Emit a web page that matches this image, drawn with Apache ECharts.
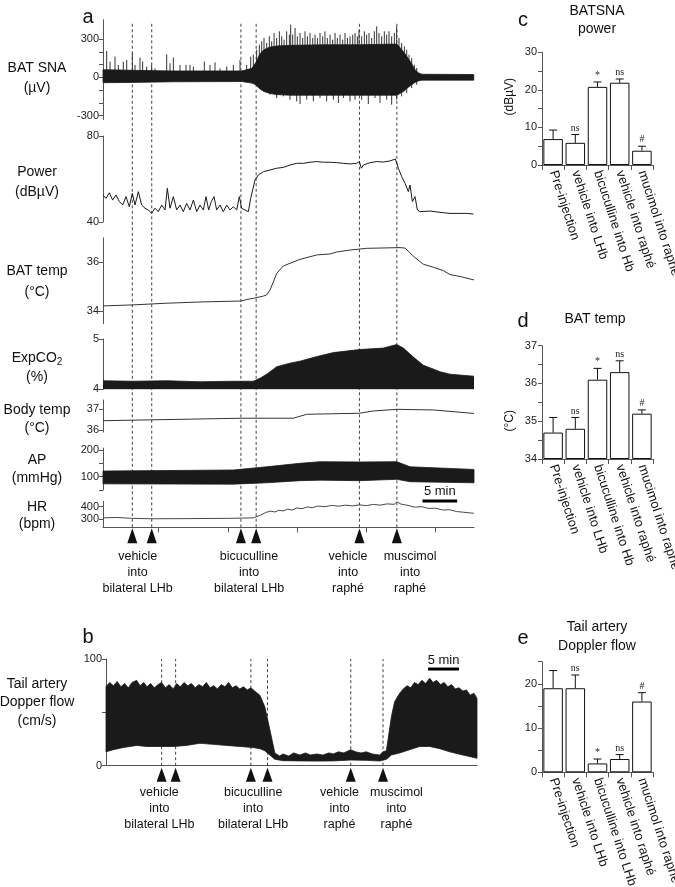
<!DOCTYPE html>
<html><head><meta charset="utf-8">
<script src="https://cdn.jsdelivr.net/npm/echarts@6/dist/echarts.min.js"></script>
<style>html,body{margin:0;padding:0;background:#fff}#c{width:675px;height:887px}</style>
</head><body><div id="c"></div>
<script>
// ---------- DATA ----------
// Panel a: time in minutes from start of recording
const eventTimesA = [4.23, 7.03, 19.9, 22.1, 37.0, 42.4];
const eventLabelTimesA = [5.0, 21.07, 35.35, 44.3];
const eventLabels = ['vehicle\ninto\nbilateral LHb', 'bicuculline\ninto\nbilateral LHb', 'vehicle\ninto\nraphé', 'muscimol\ninto\nraphé'];
const timeTicksA = [8, 18, 28, 38, 48];
const timeMaxA = 53.53;
const scaleBarStartA = 46.1;
const scaleBarMinutes = 5;

// BAT SNA: dense core envelope (µV) + individual spikes
const snaCoreTime  = [0, 4.2, 10, 20, 21.5, 22.1, 22.6, 23.2, 24, 25, 27, 32, 37, 42.4, 42.9, 43.5, 44, 44.5, 45, 45.5, 46, 53.5];
const snaCoreUpper = [60, 55, 50, 50, 70, 120, 180, 215, 235, 245, 250, 255, 255, 260, 230, 190, 150, 110, 60, 35, 24, 22];
const snaCoreLower = [-42, -40, -35, -33, -45, -60, -90, -110, -125, -135, -140, -140, -140, -140, -125, -105, -80, -60, -40, -28, -22, -22];
const snaSpikeTime = [0.53,1.01,1.73,2.21,2.93,3.42,4.23,4.62,5.34,5.72,6.30,7.02,7.50,9.19,9.67,10.15,11.11,11.98,12.55,13.04,14.62,15.44,16.16,16.88,17.85,18.81,19.77,20.73,21.31,
  21.69,22.17,22.56,22.90,23.23,23.62,24.00,24.34,24.68,25.06,25.45,25.78,26.12,26.50,26.89,27.08,27.37,27.71,28.04,28.43,28.81,29.15,29.49,29.87,30.26,30.59,30.93,31.31,31.70,32.03,32.37,32.76,33.14,33.48,33.81,34.20,34.58,34.92,35.26,35.64,36.03,36.36,36.70,
  36.94,37.32,37.71,38.04,38.38,38.77,39.15,39.49,39.82,40.21,40.59,40.93,41.27,41.65,42.04,42.37,42.71,43.09,43.48,43.82,44.15,44.54,44.92,45.26,
  22.17,23.14,24.1,25.06,26.02,26.98,27.95,28.43,29.39,30.35,31.31,32.27,33.24,33.96,34.68,35.64,36.36,37.32,38.28,39.25,39.97,40.93,41.65,42.37,43.09,43.82,44.54,45.26];
const snaSpikeValue = [206,123,162,97,123,136,188,97,154,123,84,97,70,180,110,154,97,97,97,84,123,97,117,70,84,97,136,97,162,
  177,216,255,282,308,269,321,282,347,308,360,321,295,360,334,412,334,386,321,347,308,360,321,347,308,334,308,347,321,360,308,334,295,347,308,334,295,347,308,321,334,347,321,
  373,321,360,334,347,308,360,399,347,321,360,334,360,321,347,399,308,269,243,216,177,151,99,73,
  -58,-97,-136,-162,-149,-175,-188,-209,-175,-188,-162,-188,-175,-201,-162,-188,-175,-175,-209,-162,-201,-175,-214,-175,-149,-123,-84,-58];

const powerTime = [0.0,0.43,0.91,1.39,1.88,2.36,2.84,3.32,3.80,4.23,4.62,5.10,5.58,6.06,6.54,7.02,7.50,7.98,8.47,8.95,9.28,9.67,10.15,10.63,11.11,11.59,12.07,12.55,13.04,13.52,14.00,14.48,14.86,15.25,15.63,16.02,16.40,16.88,17.36,17.85,18.33,18.81,19.29,19.67,20.01,20.49,20.97,21.31,21.60,21.93,22.42,23.14,24.10,25.06,26.02,26.98,27.95,28.91,29.87,30.83,31.79,32.76,33.72,34.68,35.64,36.60,36.99,37.28,37.57,38.53,39.49,40.45,41.41,42.18,42.62,43.10,43.58,44.06,44.30,44.64,45.02,45.36,45.74,47.19,48.63,50.07,51.52,52.48,53.44];
const powerValue = [52.6,51.0,53.6,50.2,52.6,49.5,47.9,51.8,47.1,53.3,47.9,54.1,47.9,46.4,45.6,44.0,46.4,44.8,47.9,45.6,55.7,46.4,51.8,45.6,47.9,44.8,48.7,45.6,50.2,44.8,47.9,45.6,51.8,45.6,49.5,51.8,45.6,47.9,44.8,47.9,45.6,47.1,45.6,51.8,46.4,45.6,44.8,51.0,54.9,59.5,61.9,63.4,64.2,65.0,65.4,66.5,67.3,67.3,67.8,68.1,67.8,67.8,67.6,67.3,67.0,67.3,68.1,65.0,66.5,67.6,68.1,67.9,68.4,69.3,65.0,61.1,58.0,54.1,57.2,49.5,51.8,45.6,44.8,45.1,44.5,44.0,44.0,44.0,43.7];

const batTempTime = [0,4.23,9.19,14.0,19.91,20.73,21.69,23.13,23.62,24.1,24.58,25.07,26.02,26.98,28.43,30.84,32.76,33.72,35.64,38.05,42.86,43.58,44.78,46.22,47.66,49.1,50.07,51.52,53.53];
const batTempValue = [34.22,34.26,34.33,34.38,34.42,34.48,34.53,34.62,34.67,34.87,35.2,35.55,35.85,35.96,36.12,36.3,36.34,36.42,36.5,36.57,36.6,36.58,36.25,35.92,35.8,35.66,35.5,35.42,35.28];

const co2Time = [0,4.38,9.19,14.0,18.8,21.69,22.65,23.62,25.07,26.98,28.43,30.84,33.24,36.99,40.45,42.38,43.34,44.78,46.22,48.63,50.07,53.53];
const co2Value = [4.17,4.16,4.17,4.15,4.16,4.16,4.22,4.30,4.45,4.52,4.56,4.65,4.73,4.79,4.82,4.89,4.82,4.64,4.48,4.35,4.30,4.26];

const bodyTime = [0,19.9,27.46,29.39,37.0,39.0,42.4,47.66,53.53];
const bodyValue = [36.45,36.57,36.57,36.76,36.81,36.92,37.0,36.97,36.8];

const apTime = [0,18.8,23.62,28.43,31.3,37.0,42.4,44.3,53.53];
const apUpper = [121,125,137,150,156,155,156,137,127];
const apLower = [73,72,77,85,87,85,90,81,77];

const hrTime = [0,2,4.2,7,12,18,20,21.7,22.6,23.5,24.2,24.8,25.4,26,26.6,27.3,28,28.7,29.5,30.2,31,32,33,34,35,36,37,38,39,40,41,42,42.4,43,44,45,46,47,48,49,50,51,52,53.5];
const hrValue = [312,315,308,305,306,308,310,312,330,355,365,358,372,366,380,374,390,384,398,392,405,400,410,404,412,406,414,408,418,412,422,418,438,420,410,396,400,386,388,374,376,362,356,348];

// Panel b
const eventTimesB = [8.98, 11.24, 23.39, 26.08, 39.52, 44.73];
const eventLabelTimesB = [8.6, 23.76, 37.7, 46.9];
const timeMaxB = 59.9;
const scaleBarStartB = 52.0;
const flowUpperTime = [0,0.6,1.2,1.8,2.4,3.0,3.6,4.2,4.95,5.5,6.1,6.6,7.2,7.8,8.4,8.98,9.6,10.2,10.86,11.4,12.0,12.6,13.2,13.8,14.4,15.0,15.6,16.2,16.8,17.4,18.0,18.6,19.2,19.8,20.4,21.0,21.6,22.2,22.8,23.4,24.0,24.84,25.65,26.45,27.26,28.0,28.6,29.5,30.3,31.3,32.2,33.0,34.0,35.0,36.0,36.7,37.5,38.4,39.5,40.3,41.2,42.0,43.0,44.2,44.73,45.27,46.08,46.6,47.42,48.0,48.6,49.2,49.8,50.4,51.0,51.6,52.26,52.8,53.4,54.0,54.6,55.2,55.8,56.4,57.0,57.6,58.2,58.8,59.4,59.9];
const flowUpper = [74,78,75,79,74,77,73,78,80,75,78,74,77,73,76,78,73,76,72,77,74,78,75,77,73,76,74,78,73,75,72,76,74,78,73,75,72,74,71,73,70,66,55,34,12,9,11,9,12,10,12,10,11,10,12,11,13,12,15,13,12,13,11,10,13,14,46,60,68,72,75,73,78,76,80,77,82,78,80,76,78,74,76,72,73,70,71,66,68,63];
const flowLowerTime = [0,1.18,2.8,4.95,6.56,8.98,10.86,13.0,15.16,17.3,19.46,21.61,23.76,24.84,25.65,26.45,27.26,28.6,31.29,33.98,36.67,39.52,42.04,44.19,45.27,46.08,47.42,49.03,50.65,52.26,53.87,55.48,57.63,59.9];
const flowLower = [13,15,17,19,18,18,18,19,21,20,19,18,17,16,14,10,6,4.7,4.5,4.3,4.5,5.3,5,4.4,6,10,12,15,18,18,16,13,10,7];

// Panels c, d, e
const catsCD = ['Pre-injection','vehicle into LHb','bicuculline into Hb','vehicle into raphé','mucimol into raphé'];
const catsE = ['Pre-injection','vehicle into LHb','bicuculline into LHb','vehicle into raphé','mucimol into raphé'];
const sigLabels = ['', 'ns', '*', 'ns', '#'];
const powerMean = [6.9, 5.9, 20.8, 21.9, 3.8];
const powerSem = [2.4, 2.2, 1.3, 1.0, 1.2];
const tempMean = [34.7, 34.8, 36.1, 36.3, 35.2];
const tempSem = [0.4, 0.3, 0.3, 0.3, 0.1];
const flowMean = [19, 19, 2, 3, 16];
const flowSem = [4, 3, 1, 1, 2];

// ---------- CHART ----------
const sans = '"Liberation Sans", Arial, Helvetica, sans-serif';
const serif = '"Liberation Serif", "DejaVu Serif", serif';
const ink = '#1a1a1a';
const axisCol = '#555';
const zip = (a, b) => a.map((v, i) => [v, b[i]]);

const grids = [
  {left:103, top:19.8, width:371, height:99.7},   // 0 SNA
  {left:103, top:136, width:371, height:86},      // 1 Power
  {left:103, top:237.8, width:371, height:85.75}, // 2 BAT temp
  {left:103, top:339, width:371, height:50.3},    // 3 CO2
  {left:103, top:400, width:371, height:32.1},    // 4 Body temp
  {left:103, top:448.1, width:371, height:41.9},  // 5 AP
  {left:103, top:501.2, width:371, height:26.2},  // 6 HR
  {left:103, top:23, width:371, height:504.3},    // 7 overlay a
  {left:106, top:659, width:371, height:106.7},   // 8 Doppler
  {left:542, top:52.3, width:111, height:112.7},  // 9 c
  {left:542, top:345.7, width:111, height:113.3}, // 10 d
  {left:542, top:661.7, width:111, height:110.6}  // 11 e
].map(g => Object.assign({containLabel:false, outerBoundsMode:'none'}, g));

function hiddenX(gi, max){ return {type:'value', gridIndex:gi, min:0, max:max, show:false}; }
function traceY(gi, min, max, ticks, labels){
  return {type:'value', gridIndex:gi, min:min, max:max,
    axisLine:{show:true, onZero:false, lineStyle:{color:axisCol, width:1}},
    axisTick:{show:true, inside:false, length:4, customValues:ticks, lineStyle:{color:axisCol}},
    axisLabel:{show:true, customValues:labels, fontSize:11, fontFamily:sans, color:'#222', margin:4},
    splitLine:{show:false}};
}
function barY(gi, min, max, interval, labels){
  return {type:'value', gridIndex:gi, min:min, max:max, interval:interval, startValue:min,
    axisLine:{show:true, onZero:false, lineStyle:{color:axisCol, width:1}},
    axisTick:{show:true, inside:false, length:4, lineStyle:{color:axisCol}},
    axisLabel:{show:true, customValues:labels, fontSize:11, fontFamily:sans, color:'#222', margin:5},
    splitLine:{show:false}};
}
function barX(gi, cats){
  return {type:'category', gridIndex:gi, data:cats,
    axisLine:{show:true, onZero:false, lineStyle:{color:axisCol}},
    axisTick:{show:true, inside:false, length:5, lineStyle:{color:axisCol}},
    axisLabel:{rotate:-72, interval:0, fontSize:13, fontFamily:sans, color:'#111', margin:6},
    splitLine:{show:false}};
}

const xAxis = [
  hiddenX(0, timeMaxA), hiddenX(1, timeMaxA), hiddenX(2, timeMaxA), hiddenX(3, timeMaxA),
  hiddenX(4, timeMaxA), hiddenX(5, timeMaxA),
  {type:'value', gridIndex:6, min:0, max:timeMaxA,
    axisLine:{show:true, onZero:false, lineStyle:{color:axisCol}},
    axisTick:{show:true, inside:false, length:5, customValues:timeTicksA, lineStyle:{color:axisCol}},
    axisLabel:{show:false}, splitLine:{show:false}},
  hiddenX(7, timeMaxA),
  {type:'value', gridIndex:8, min:0, max:timeMaxB,
    axisLine:{show:true, onZero:false, lineStyle:{color:axisCol}},
    axisTick:{show:false}, axisLabel:{show:false}, splitLine:{show:false}},
  barX(9, catsCD), barX(10, catsCD), barX(11, catsE)
];
const yAxis = [
  traceY(0, -330, 450, [-300,-200,-100,0,100,200,300], [-300,0,300]),
  traceY(1, 40, 80, [40,80], [40,80]),
  traceY(2, 33.5, 37, [34,36], [34,36]),
  traceY(3, 4, 5, [4,5], [4,5]),
  traceY(4, 35.9, 37.45, [36,37], [36,37]),
  traceY(5, 50, 207, [50,100,150,200], [100,200]),
  traceY(6, 237, 443, [300,400], [300,400]),
  {type:'value', gridIndex:7, min:0, max:1, show:false},
  traceY(8, 0, 100, [0,50,100], [0,100]),
  barY(9, 0, 30, 5, [0,10,20,30]),
  barY(10, 34, 37, 0.5, [34,35,36,37]),
  barY(11, 0, 25, 5, [0,10,20])
];

function lineS(gi, t, v, extra){
  return Object.assign({type:'line', xAxisIndex:gi, yAxisIndex:gi, data:zip(t, v), symbol:'none',
    smooth:false, lineStyle:{color:ink, width:1}, z:3, silent:true}, extra || {});
}
// filled band between a lower and an upper envelope, positioned by the axes
function bandS(gi, tU, hi, tL, lo){
  return {type:'custom', coordinateSystem:'cartesian2d', xAxisIndex:gi, yAxisIndex:gi, silent:true, z:3,
    data:[[tL[0], lo[0]]], encode:{x:0, y:1},
    renderItem: (p, api) => {
      const pts = [];
      for (let i = 0; i < tU.length; i++) pts.push(api.coord([tU[i], hi[i]]));
      for (let i = tL.length - 1; i >= 0; i--) pts.push(api.coord([tL[i], lo[i]]));
      return {type:'polygon', shape:{points:pts}, style:{fill:ink, stroke:ink, lineWidth:0.8}};
    }};
}
function spikeS(gi, t, v){
  return {type:'custom', coordinateSystem:'cartesian2d', xAxisIndex:gi, yAxisIndex:gi, silent:true, z:2,
    data: zip(t, v), encode:{x:0, y:1},
    renderItem: (p, api) => {
      const a = api.coord([api.value(0), 0]), b = api.coord([api.value(0), api.value(1)]);
      return {type:'line', shape:{x1:a[0], y1:a[1], x2:b[0], y2:b[1]}, style:{stroke:'#333', lineWidth:1}};
    }};
}
function eventLineS(gi, times, yLo, yHi){
  return {type:'custom', coordinateSystem:'cartesian2d', xAxisIndex:gi, yAxisIndex:gi, silent:true, z:1,
    data: times.map(t => [t, yLo]), encode:{x:0, y:1},
    renderItem: (p, api) => {
      const a = api.coord([api.value(0), yLo]), b = api.coord([api.value(0), yHi]);
      return {type:'line', shape:{x1:a[0], y1:a[1], x2:b[0], y2:b[1]},
        style:{stroke:'#444', lineWidth:1, lineDash:[3, 2.5]}};
    }};
}
function arrowS(gi, times, yBase, dy0, dy1){
  return {type:'custom', coordinateSystem:'cartesian2d', xAxisIndex:gi, yAxisIndex:gi, silent:true, z:5,
    data: times.map(t => [t, yBase]), encode:{x:0, y:1},
    renderItem: (p, api) => {
      const c = api.coord([api.value(0), yBase]);
      return {type:'polygon', shape:{points:[[c[0], c[1]+dy0], [c[0]-5, c[1]+dy1], [c[0]+5, c[1]+dy1]]},
        style:{fill:'#111'}};
    }};
}
function eventLabelS(gi, times, yBase, dy){
  return {type:'custom', coordinateSystem:'cartesian2d', xAxisIndex:gi, yAxisIndex:gi, silent:true, z:5,
    data: times.map(t => [t, yBase]), encode:{x:0, y:1},
    renderItem: (p, api) => {
      const c = api.coord([api.value(0), yBase]);
      return {type:'text', x:c[0], y:c[1]+dy,
        style:{text:eventLabels[p.dataIndex], align:'center', verticalAlign:'top', fontSize:12.5,
          fontFamily:sans, lineHeight:16, fill:'#111'}};
    }};
}
function scaleBarS(gi, start, minutes, level, textDy){
  return {type:'custom', coordinateSystem:'cartesian2d', xAxisIndex:gi, yAxisIndex:gi, silent:true, z:6,
    data:[[start, level]], encode:{x:0, y:1},
    renderItem: (p, api) => {
      const a = api.coord([start, level]), b = api.coord([start + minutes, level]);
      return {type:'group', children:[
        {type:'line', shape:{x1:a[0], y1:a[1], x2:b[0], y2:b[1]}, style:{stroke:'#000', lineWidth:3}},
        {type:'text', x:(a[0]+b[0])/2, y:a[1]+textDy,
          style:{text:minutes + ' min', align:'center', verticalAlign:'middle', fontSize:13, fontFamily:sans, fill:'#111'}}
      ]};
    }};
}
function barS(gi, means){
  return {type:'bar', xAxisIndex:gi, yAxisIndex:gi, data:means, barWidth:19.5, silent:true, z:2,
    itemStyle:{color:'#fff', borderColor:'#111', borderWidth:1}};
}
function errS(gi, means, sems){
  return {type:'custom', coordinateSystem:'cartesian2d', xAxisIndex:gi, yAxisIndex:gi, silent:true, z:4,
    data: means.map((m, i) => [i, m, m + sems[i]]), encode:{x:0, y:2},
    renderItem: (p, api) => {
      const i = api.value(0);
      const base = api.coord([i, api.value(1)]), top = api.coord([i, api.value(2)]);
      return {type:'group', children:[
        {type:'line', shape:{x1:base[0], y1:base[1], x2:top[0], y2:top[1]}, style:{stroke:'#111', lineWidth:1}},
        {type:'line', shape:{x1:top[0]-4, y1:top[1], x2:top[0]+4, y2:top[1]}, style:{stroke:'#111', lineWidth:1}},
        {type:'text', x:top[0], y:top[1]-1.5,
          style:{text:sigLabels[p.dataIndex], align:'center', verticalAlign:'bottom', fontSize:10, fontFamily:serif, fill:'#222'}}
      ]};
    }};
}

const series = [
  eventLineS(7, eventTimesA, 0, 1),
  spikeS(0, snaSpikeTime, snaSpikeValue),
  bandS(0, snaCoreTime, snaCoreUpper, snaCoreTime, snaCoreLower),
  lineS(1, powerTime, powerValue, {lineStyle:{color:ink, width:1}}),
  lineS(2, batTempTime, batTempValue, {lineStyle:{color:'#333', width:1}}),
  lineS(3, co2Time, co2Value, {lineStyle:{color:ink, width:0.8}, areaStyle:{color:ink, opacity:1, origin:'start'}}),
  lineS(4, bodyTime, bodyValue, {lineStyle:{color:'#333', width:1}}),
  bandS(5, apTime, apUpper, apTime, apLower),
  lineS(6, hrTime, hrValue, {lineStyle:{color:'#333', width:0.9}}),
  arrowS(7, eventTimesA, 0, 1, 16),
  eventLabelS(7, eventLabelTimesA, 0, 21.4),
  scaleBarS(6, scaleBarStartA, scaleBarMinutes, 444, -9.3),
  eventLineS(8, eventTimesB, 0, 100),
  bandS(8, flowUpperTime, flowUpper, flowLowerTime, flowLower),
  arrowS(8, eventTimesB, 0, 2, 16),
  eventLabelS(8, eventLabelTimesB, 0, 18.7),
  scaleBarS(8, scaleBarStartB, scaleBarMinutes, 90.6, -9),
  barS(9, powerMean), errS(9, powerMean, powerSem),
  barS(10, tempMean), errS(10, tempMean, tempSem),
  barS(11, flowMean), errS(11, flowMean, flowSem)
];

function txt(x, y, text, size, lh, extra){
  return Object.assign({type:'text', x:x, y:y, silent:true,
    style:{text:text, align:'center', verticalAlign:'middle', fontSize:size, fontFamily:sans, lineHeight:lh, fill:'#111'}}, extra || {});
}
const graphic = [
  txt(88, 17, 'a', 20, 22), txt(88, 637, 'b', 20, 22),
  txt(523, 20, 'c', 20, 22), txt(523, 321, 'd', 20, 22), txt(523, 638, 'e', 20, 22),
  txt(37, 78, 'BAT SNA\n(µV)', 14, 20),
  txt(37, 182, 'Power\n(dBµV)', 14, 20.6),
  txt(37, 281.3, 'BAT temp\n(°C)', 14, 20.7),
  {type:'text', x:37, y:367.5, silent:true,
    style:{text:'ExpCO{s|2}\n(%)', align:'center', verticalAlign:'middle', fontSize:14, fontFamily:sans,
      lineHeight:18.4, fill:'#111', rich:{s:{fontSize:10, fontFamily:sans, verticalAlign:'bottom', lineHeight:11, fill:'#111'}}}},
  txt(37, 419.2, 'Body temp\n(°C)', 14, 18.3),
  txt(37, 469.2, 'AP\n(mmHg)', 14, 18.3),
  txt(37, 515.5, 'HR\n(bpm)', 14, 17.6),
  txt(37, 702.4, 'Tail artery\nDopper flow\n(cm/s)', 14, 18.3),
  txt(597, 20, 'BATSNA\npower', 14, 18.6),
  txt(595, 319, 'BAT temp', 14, 18),
  txt(597, 636.7, 'Tail artery\nDoppler flow', 14, 18.7),
  txt(510, 96.7, '(dBµV)', 12, 14, {rotation: Math.PI/2}),
  txt(509.3, 420.8, '(°C)', 12, 14, {rotation: Math.PI/2})
];

const chart = echarts.init(document.getElementById('c'), null, {renderer:'canvas', width:675, height:887});
chart.setOption({animation:false, backgroundColor:'#fff', grid:grids, xAxis:xAxis, yAxis:yAxis, series:series, graphic:graphic});
</script></body></html>
